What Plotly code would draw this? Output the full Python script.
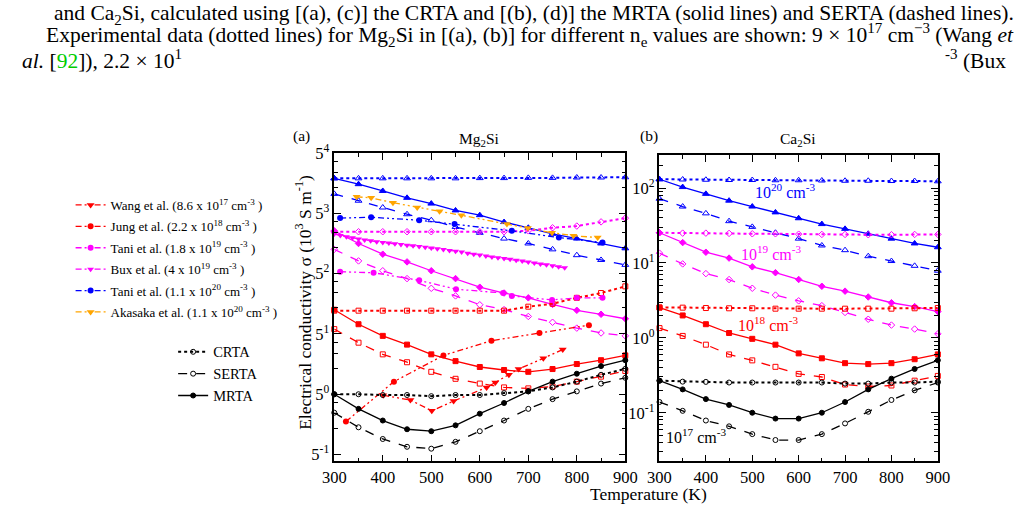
import plotly.graph_objects as go
import math

# ---------------- data ----------------
T = [300, 350, 400, 450, 500, 550, 600, 650, 700, 750, 800, 850, 900]

# Mg2Si (panel a), units 10^3 S/m
mg_crta_17 = [1.0, 1.0, 0.98, 0.98, 0.95, 0.98, 0.98, 1.03, 1.08, 1.20, 1.40, 1.68, 1.97]
mg_serta_17 = [0.611, 0.414, 0.303, 0.246, 0.234, 0.281, 0.373, 0.496, 0.677, 0.878, 1.08, 1.33, 1.55]
mg_mrta_17 = [1.0, 0.677, 0.496, 0.393, 0.373, 0.436, 0.595, 0.792, 1.08, 1.40, 1.73, 2.12, 2.48]
mg_crta_18 = [9.3, 9.3, 9.3, 9.3, 9.3, 9.3, 9.3, 9.3, 10.35, 11.2, 13.1, 14.9, 17.8]
mg_serta_18 = [5.69, 3.96, 2.9, 2.35, 1.82, 1.51, 1.33, 1.2, 1.17, 1.23, 1.40, 1.6, 1.86]
mg_mrta_18 = [9.55, 6.48, 4.75, 3.76, 2.9, 2.42, 2.07, 1.91, 1.82, 1.96, 2.24, 2.48, 2.82]
mg_crta_19 = [76.5, 76.5, 76.5, 76.5, 76.5, 76.5, 76.5, 76.5, 78.4, 85, 89, 99.5, 110]
mg_serta_19 = [47.8, 35.1, 27.0, 21.9, 16.9, 13.8, 10.9, 9.57, 7.97, 6.83, 5.84, 5.13, 4.75]
mg_mrta_19 = [78.4, 55.9, 42.0, 34.2, 27.0, 21.9, 17.4, 14.9, 13.1, 11.0, 9.4, 8.45, 7.5]
mg_crta_20 = [318, 318, 318, 318, 318, 318, 320, 320, 322, 322, 325, 325, 327]
mg_serta_20 = [210, 175, 146, 122, 104, 86.9, 74.3, 63.7, 55.9, 47.8, 40.9, 36.0, 31.6]
mg_mrta_20 = [318, 272, 227, 189, 162, 135, 119, 99, 85, 72.4, 63.7, 55.9, 49.1]

# Experimental Mg2Si
wang_T = [401, 457, 501, 546, 614, 632, 660, 680, 731, 771]
wang_s = [0.975, 0.855, 0.643, 0.834, 1.2, 1.37, 1.68, 1.96, 2.61, 3.3]
jung_T = [324, 423, 525, 624, 723, 825]
jung_s = [0.483, 1.40, 2.82, 4.17, 5.13, 6.31]
tani19_T = [312, 381, 475, 551, 648, 666, 749, 800, 853]
tani19_s = [26.3, 25.6, 20.9, 16.5, 14.9, 13.8, 12.4, 13.1, 13.1]
bux_T = [300, 312.5, 325, 337.5, 350, 362.5, 375, 387.5, 400, 412.5, 425, 437.5, 450,
         462.5, 475, 487.5, 500, 512.5, 525, 537.5, 550, 562.5, 575, 587.5, 600, 612.5,
         625, 637.5, 650, 662.5, 675, 687.5, 700, 712.5, 725, 737.5, 750, 762.5, 775]
bux_s = [72, 69, 67, 65, 63, 61.5, 60, 58.5, 57.5, 56.5, 55.5, 54.5, 53.5,
         52.5, 51.5, 50.5, 49.5, 48.5, 47.5, 46.5, 45.5, 44.5, 43, 42, 41, 40,
         39, 38.2, 37.4, 36.6, 35.8, 35, 34, 33.2, 32.4, 31.6, 30.8, 30, 29.2]
tani20_T = [312, 376, 475, 548, 666, 763, 853]
tani20_s = [110, 112.6, 104, 94, 78.4, 65.4, 57.4]
aka_T = [346, 376, 421, 471, 517, 562, 656, 699, 749, 793, 843]
aka_s = [194, 189, 166, 146, 132, 118.7, 94, 84.7, 74.3, 68.8, 65.4]

# Ca2Si (panel b)
ca_crta_17 = [0.268, 0.26, 0.258, 0.253, 0.253, 0.253, 0.253, 0.253, 0.245, 0.245, 0.253, 0.253, 0.26]
ca_serta_17 = [0.139, 0.106, 0.0787, 0.0658, 0.0518, 0.0432, 0.0432, 0.0518, 0.072, 0.103, 0.148, 0.199, 0.253]
ca_mrta_17 = [0.268, 0.205, 0.152, 0.127, 0.1, 0.0835, 0.0835, 0.1, 0.139, 0.205, 0.285, 0.384, 0.502]
ca_crta_18 = [2.55, 2.53, 2.5, 2.48, 2.48, 2.45, 2.45, 2.45, 2.45, 2.45, 2.45, 2.48, 2.5]
ca_serta_18 = [1.35, 1.06, 0.81, 0.6, 0.5, 0.41, 0.33, 0.30, 0.238, 0.224, 0.231, 0.268, 0.31]
ca_mrta_18 = [2.53, 1.99, 1.52, 1.16, 0.97, 0.81, 0.62, 0.533, 0.459, 0.446, 0.459, 0.518, 0.601]
ca_crta_19 = [25.3, 25, 25, 24.8, 24.5, 24.5, 24.2, 24, 24, 23.8, 23.8, 24, 24]
ca_serta_19 = [13.5, 9.7, 7.2, 6.0, 4.59, 3.72, 3.12, 2.69, 2.18, 1.77, 1.48, 1.31, 1.13]
ca_mrta_19 = [25.3, 18.7, 13.9, 11.6, 8.87, 7.41, 6.01, 4.88, 4.2, 3.51, 2.94, 2.61, 2.24]
ca_crta_20 = [131, 130, 129, 128, 128, 127, 127, 126, 125, 125, 124, 124, 123]
ca_serta_20 = [72, 56.6, 45.9, 36.1, 30.3, 25.3, 21.1, 17.1, 14.8, 12.3, 10.6, 9.15, 7.87]
ca_mrta_20 = [131, 103, 83.6, 67.8, 56.6, 47.3, 39.5, 33, 28.5, 24.5, 21.1, 18.2, 16.2]

x_ticks = [300, 400, 500, 600, 700, 800, 900]
ya_ticks = [0.2, 1, 5, 25, 125, 625]
ya_text = ["5<sup>-1</sup>", "5<sup>0</sup>", "5<sup>1</sup>", "5<sup>2</sup>", "5<sup>3</sup>", "5<sup>4</sup>"]
yb_ticks = [0.1, 1, 10, 100]
yb_text = ["10<sup>-1</sup>", "10<sup>0</sup>", "10<sup>1</sup>", "10<sup>2</sup>"]

# ---------------- styling ----------------
FONT = "Liberation Serif, Times New Roman, serif"
BLUE, RED, MAG, ORA, BLK = "#0000ff", "#ff0000", "#ff00ff", "#ffa500", "#000000"
DDOT = "6px,3px,2px,3px,2px,3px"

fig = go.Figure()


def theory(x, y, color, sym, kind, xa, ya, name=None, legend=None):
    dash = {"crta": "dot", "serta": "dash", "mrta": "solid"}[kind]
    symbol = sym if kind == "mrta" else sym + "-open"
    size = 6 if "triangle" in sym else 5
    fig.add_trace(go.Scatter(
        x=x, y=y, mode="lines+markers", xaxis=xa, yaxis=ya,
        line=dict(color=color, width=1.3 if kind != "crta" else 2, dash=dash),
        marker=dict(symbol=symbol, size=size, color=color, line=dict(color=color, width=1)),
        cliponaxis=False, name=name or "", showlegend=legend is not None,
        legend=legend or "legend"))


def exper(x, y, color, sym, name, size=6):
    fig.add_trace(go.Scatter(
        x=x, y=y, mode="lines+markers", xaxis="x", yaxis="y",
        line=dict(color=color, width=1.3, dash=DDOT),
        marker=dict(symbol=sym, size=size, color=color, line=dict(width=0)),
        cliponaxis=False, name=name, legend="legend", legendgroup=name))


# panel (a)
theory(T, mg_crta_20, BLUE, "triangle-up", "crta", "x", "y")
theory(T, mg_serta_20, BLUE, "triangle-up", "serta", "x", "y")
theory(T, mg_mrta_20, BLUE, "triangle-up", "mrta", "x", "y")
theory(T, mg_crta_19, MAG, "diamond", "crta", "x", "y")
theory(T, mg_serta_19, MAG, "diamond", "serta", "x", "y")
theory(T, mg_mrta_19, MAG, "diamond", "mrta", "x", "y")
theory(T, mg_crta_18, RED, "square", "crta", "x", "y")
theory(T, mg_serta_18, RED, "square", "serta", "x", "y")
theory(T, mg_mrta_18, RED, "square", "mrta", "x", "y")

exper(wang_T, wang_s, RED, "triangle-down", "Wang et al. (8.6 x 10<sup>17</sup> cm<sup>-3</sup> )", 7)
exper(jung_T, jung_s, RED, "circle", "Jung et al. (2.2 x 10<sup>18</sup> cm<sup>-3</sup> )", 6)
exper(tani19_T, tani19_s, MAG, "circle", "Tani et al. (1.8 x 10<sup>19</sup> cm<sup>-3</sup> )", 6)
exper(bux_T, bux_s, MAG, "triangle-down", "Bux et al. (4 x 10<sup>19</sup> cm<sup>-3</sup> )", 6)
exper(tani20_T, tani20_s, BLUE, "circle", "Tani et al. (1.1 x 10<sup>20</sup> cm<sup>-3</sup> )", 6)
exper(aka_T, aka_s, ORA, "triangle-down", "Akasaka et al. (1.1 x 10<sup>20</sup> cm<sup>-3</sup> )", 7)

theory(T, mg_crta_17, BLK, "circle", "crta", "x", "y", "CRTA", "legend2")
theory(T, mg_serta_17, BLK, "circle", "serta", "x", "y", "SERTA", "legend2")
theory(T, mg_mrta_17, BLK, "circle", "mrta", "x", "y", "MRTA", "legend2")

# panel (b)
for data, col, sym in [((ca_crta_20, ca_serta_20, ca_mrta_20), BLUE, "triangle-up"),
                       ((ca_crta_19, ca_serta_19, ca_mrta_19), MAG, "diamond"),
                       ((ca_crta_18, ca_serta_18, ca_mrta_18), RED, "square"),
                       ((ca_crta_17, ca_serta_17, ca_mrta_17), BLK, "circle")]:
    theory(T, data[0], col, sym, "crta", "x2", "y2")
    theory(T, data[1], col, sym, "serta", "x2", "y2")
    theory(T, data[2], col, sym, "mrta", "x2", "y2")

W, H = 1026, 513


def px(x):
    return x / W


def py(y):
    return 1 - y / H


axis_common = dict(showline=True, linecolor="black", linewidth=1.5, mirror="ticks",
                   ticks="inside", ticklen=7, tickwidth=1.2, tickcolor="black",
                   showgrid=False, zeroline=False,
                   tickfont=dict(family=FONT, size=16.5, color="black"))

xa = dict(axis_common, range=[300, 900], tickvals=x_ticks,
          minor=dict(dtick=50, tick0=300, ticks="inside", ticklen=4, tickcolor="black"))

minor_a = [k * 5 ** n for n in range(-2, 4) for k in (2, 3, 4)]
minor_b = [k * 10 ** n for n in range(-2, 3) for k in range(2, 10)]

y_bot_a = 4 - (463 - 146) / 62
fig.update_layout(
    width=W, height=H, margin=dict(l=0, r=0, t=0, b=0),
    paper_bgcolor="white", plot_bgcolor="white",
    font=dict(family=FONT, color="black"),
    xaxis=dict(xa, domain=[px(330), px(628)], anchor="y"),
    xaxis2=dict(xa, domain=[px(663), px(948)], anchor="y2"),
    yaxis=dict(axis_common, type="log", domain=[py(463), py(146)], anchor="x",
               range=[y_bot_a * math.log10(5), 4 * math.log10(5)],
               tickvals=ya_ticks, ticktext=ya_text,
               minor=dict(tickvals=minor_a, ticks="inside", ticklen=4, tickcolor="black")),
    yaxis2=dict(axis_common, type="log", domain=[py(463), py(148)], anchor="x2",
                range=[2 - (463 - 182) / 77, 2 + (182 - 148) / 77],
                tickvals=yb_ticks, ticktext=yb_text,
                minor=dict(tickvals=minor_b, ticks="inside", ticklen=4, tickcolor="black")),
    legend=dict(x=px(60), y=py(184), xanchor="left", yanchor="top",
                font=dict(family=FONT, size=13, color="black"),
                bgcolor="rgba(0,0,0,0)", tracegroupgap=1.5, traceorder="grouped",
                itemwidth=30),
    legend2=dict(x=px(165), y=py(334), xanchor="left", yanchor="top",
                 font=dict(family=FONT, size=14.5, color="black"),
                 bgcolor="rgba(0,0,0,0)", tracegroupgap=0, itemwidth=30),
)

ann = []


def add(text, x, y, size=15, color="black", xanchor="center", angle=0):
    ann.append(dict(text=text, x=px(x), y=py(y), xref="paper", yref="paper",
                    showarrow=False, xanchor=xanchor, yanchor="middle", textangle=angle,
                    font=dict(family=FONT, size=size, color=color)))


add("(a)", 296, 129, 15.5)
add("Mg<sub>2</sub>Si", 479, 132, 15.5)
add("(b)", 652, 129, 15.5)
add("Ca<sub>2</sub>Si", 805, 132, 15.5)
add("Temperature (K)", 652, 497, 17.5)
add("Electrical conductivity σ (10<sup>3</sup> S m<sup>-1</sup>)", 298, 300, 17.5, angle=-90)
add("10<sup>20</sup> cm<sup>-3</sup>", 792, 185, 16, BLUE)
add("10<sup>19</sup> cm<sup>-3</sup>", 777, 249, 16, MAG)
add("10<sup>18</sup> cm<sup>-3</sup>", 774, 322, 16, RED)
add("10<sup>17</sup> cm<sup>-3</sup>", 700, 437, 16, BLK)

# caption text above the figure
add("and Ca<sub>2</sub>Si, calculated using [(a), (c)] the CRTA and [(b), (d)] the MRTA (solid lines) and SERTA (dashed lines).",
    534, 4, 21.5)
add("Experimental data (dotted lines) for Mg<sub>2</sub>Si in [(a), (b)] for different n<sub>e</sub> values are shown: 9 × 10<sup>17</sup> cm<sup>−3</sup> (Wang <i>et</i>",
    530, 25, 21.5)
add("<i>al.</i> [<span style='color:#00cc00'>92</span>]), 2.2 × 10<sup>1</sup>", 8, 50, 21.5, xanchor="left")
add("<sup>-3</sup> (Bux", 1020, 50, 21.5, xanchor="right")

fig.update_layout(annotations=ann)
fig.write_html("out.html")
